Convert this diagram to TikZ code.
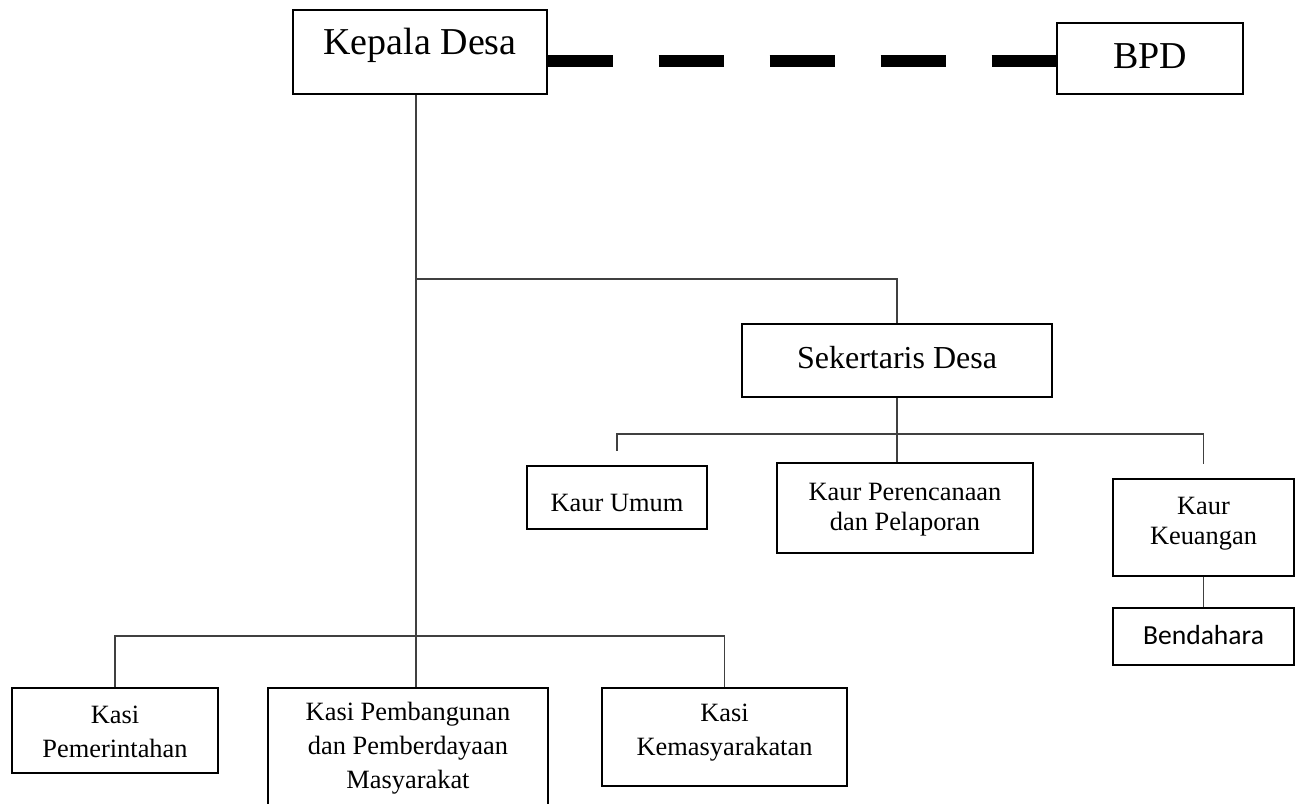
\documentclass[tikz,border=0pt]{standalone}
\usepackage{fontspec}
\setmainfont{Liberation Serif}
\newfontfamily\calibri{Carlito}
\usepackage{tikz}
\usetikzlibrary{positioning, calc}

\begin{document}
\begin{tikzpicture}[x=0.75pt, y=-0.75pt,
    unit/.style={draw, line width=1.1pt, inner sep=0pt, align=center},
    big/.style={font=\fontsize{28.5}{34}\selectfont},
    mid/.style={font=\fontsize{24}{29}\selectfont},
    kasi/.style={font=\fontsize{19.8}{25.5}\selectfont},
    kaur/.style={font=\fontsize{19.8}{22.5}\selectfont},
    link/.style={line width=0.8pt, black!75},
    bond/.style={line width=9pt, dash pattern=on 48.75pt off 34.5pt}]
    \useasboundingbox (0,0) rectangle (1302,803);
    \clip (0,0) rectangle (1302,803);
    \node[unit, big, minimum width=190.5pt, text height=33pt, text depth=30pt] (kades) at (420,52) {Kepala Desa};
    \node[unit, big, minimum width=139.5pt, text height=33.75pt, text depth=19.5pt] (bpd) at (1150,58.5) {BPD};
    \node[unit, mid, minimum width=232.5pt, text height=33pt, text depth=21.75pt] (sekdes) at (897,360.5) {Sekertaris Desa};
    \node[unit, kaur, minimum width=135pt, text height=33.75pt, text depth=13.5pt] (kumum) at (617,497.5) {Kaur Umum};
    \node[unit, kaur, minimum width=192pt, text height=50.25pt, text depth=17.25pt] (kperenc) at (905,508) {Kaur Perencanaan\\dan Pelaporan};
    \node[unit, kaur, minimum width=135.75pt, text height=48.75pt, text depth=24pt] (kkeu) at (1203.5,527.5) {Kaur\\Keuangan};
    \node[unit, font={\calibri\fontsize{20.7}{25}\selectfont}, minimum width=135.75pt, text height=27pt, text depth=15.75pt] (bendahara) at (1203.5,636.5) {Bendahara};
    \node[unit, kasi, minimum width=154.5pt, text height=51.75pt, text depth=12pt] (kpem) at (115,730.5) {Kasi\\Pemerintahan};
    \node[unit, kasi, minimum width=210pt, text height=75pt, text depth=22.5pt] (kpemb) at (408,753) {Kasi Pembangunan\\dan Pemberdayaan\\Masyarakat};
    \node[unit, kasi, minimum width=183.75pt, text height=50.25pt, text depth=23.25pt] (kkemas) at (724.5,737) {Kasi\\Kemasyarakatan};

    \coordinate (spine) at (416,279);
    \coordinate (hub) at (416,636);
    \coordinate (kaurbar) at (897,434);
    \coordinate (bondR) at ([yshift=-2pt]bpd.west);

    \draw[bond] (kades.east |- bondR) -- (bondR);
    \draw[link] (kades.south -| spine) -- (kpemb.north -| spine);
    \draw[link] (spine) -| (sekdes.north);
    \draw[link] (kpem.north) -- (kpem.north |- hub) -- (kkemas.north |- hub) -- (kkemas.north);
    \draw[link] (sekdes.south) -- (sekdes.south |- kperenc.north);
    \draw[link] ([yshift=11pt]kumum.north) -- (kumum.north |- kaurbar) -- (kkeu.north |- kaurbar) -- ([yshift=10.5pt]kkeu.north);
    \draw[link] (kkeu.south -| bendahara.north) -- (bendahara.north);
\end{tikzpicture}
\end{document}
